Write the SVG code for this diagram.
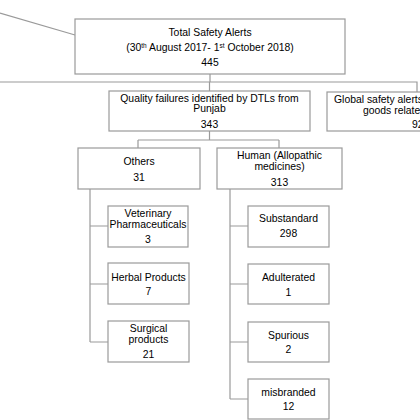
<svg xmlns="http://www.w3.org/2000/svg" width="420" height="420" viewBox="0 0 420 420">
<style>
.box{fill:#fff;stroke:#9a9a9a;stroke-width:1.2}
.ln{fill:none;stroke:#9a9a9a;stroke-width:1.2}
text{font-family:"Liberation Sans",Arial,sans-serif;font-size:10.4px;fill:#000;text-anchor:middle}
.st{text-anchor:start}
.sup{font-size:6.5px}
</style>
<rect width="420" height="420" fill="#fff"/>
<g id="connectors">
<path class="ln" d="M0 13 L75 35" stroke="#808080"/>
<path class="ln" d="M210 74 V82 M0 82 H417 V92 M209.5 82 V91"/>
<path class="ln" d="M209.5 131 V140 M138 140 H279 M138 140 V148 M279 140 V148"/>
<path class="ln" d="M90 189 V342 M90 226 H108 M90 284 H108 M90 342 H108"/>
<path class="ln" d="M230 189 V399 M230 226 H248 M230 284 H248 M230 342 H248 M230 399 H248"/>
</g>
<g id="total">
<rect class="box" x="75" y="19" width="270" height="55"/>
<text x="210" y="36">Total Safety Alerts</text>
<text x="210" y="51">(30<tspan class="sup" dy="-3.5">th</tspan><tspan dy="3.5"> August 2017- 1</tspan><tspan class="sup" dy="-3.5">st</tspan><tspan dy="3.5"> October 2018)</tspan></text>
<text x="210" y="66">445</text>
</g>
<g id="quality">
<rect class="box" x="109" y="91" width="201" height="40"/>
<text x="209.5" y="102">Quality failures identified by DTLs from</text>
<text x="209.5" y="112">Punjab</text>
<text x="209.5" y="128">343</text>
</g>
<g id="global">
<rect class="box" x="327" y="92" width="200" height="39"/>
<text class="st" x="334" y="103">Global safety alerts</text>
<text class="st" x="363" y="114">goods related</text>
<text class="st" x="412" y="128">92</text>
</g>
<g id="others">
<rect class="box" x="78" y="148" width="122" height="41"/>
<text x="139" y="165">Others</text>
<text x="139" y="181">31</text>
</g>
<g id="human">
<rect class="box" x="217" y="148" width="125" height="41"/>
<text x="279.5" y="159">Human (Allopathic</text>
<text x="279.5" y="170">medicines)</text>
<text x="279.5" y="186">313</text>
</g>
<g id="veterinary">
<rect class="box" x="108" y="206" width="80" height="41"/>
<text x="148" y="217">Veterinary</text>
<text x="148" y="228">Pharmaceuticals</text>
<text x="148" y="243">3</text>
</g>
<g id="herbal">
<rect class="box" x="108" y="263" width="81" height="41"/>
<text x="148.5" y="281">Herbal Products</text>
<text x="148.5" y="295">7</text>
</g>
<g id="surgical">
<rect class="box" x="108" y="321" width="81" height="41"/>
<text x="148.5" y="332">Surgical</text>
<text x="148.5" y="343">products</text>
<text x="148.5" y="358">21</text>
</g>
<g id="substandard">
<rect class="box" x="248" y="206" width="81" height="41"/>
<text x="288.5" y="222">Substandard</text>
<text x="288.5" y="237">298</text>
</g>
<g id="adulterated">
<rect class="box" x="248" y="264" width="81" height="40"/>
<text x="288.5" y="281">Adulterated</text>
<text x="288.5" y="296">1</text>
</g>
<g id="spurious">
<rect class="box" x="248" y="322" width="81" height="40"/>
<text x="288.5" y="339">Spurious</text>
<text x="288.5" y="353">2</text>
</g>
<g id="misbranded">
<rect class="box" x="248" y="379" width="81" height="40"/>
<text x="288.5" y="396">misbranded</text>
<text x="288.5" y="410">12</text>
</g>
</svg>
